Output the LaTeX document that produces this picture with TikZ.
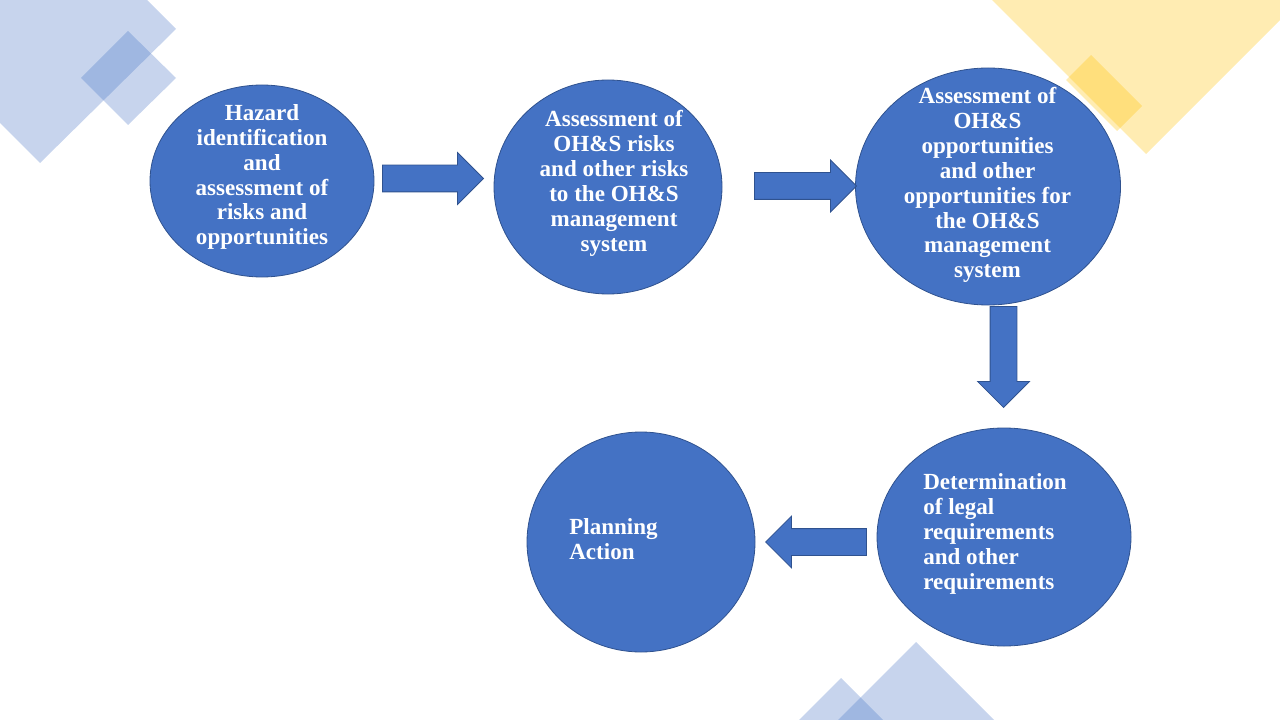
\documentclass[tikz,border=0pt]{standalone}
\usepackage{fontspec}
\setmainfont{Liberation Serif}
\usetikzlibrary{shapes.geometric,shapes.arrows}
\definecolor{nodeblue}{HTML}{4472C4}
\definecolor{edgeblue}{HTML}{2F528F}
\definecolor{gold}{HTML}{FFC000}
\newcommand\pxu{*0.75pt}
\begin{document}
\begin{tikzpicture}[x=0.75pt,y=-0.75pt,
  bubble/.style={ellipse, fill=nodeblue, draw=edgeblue, line width=0.6pt, inner sep=0pt},
  bubbletext/.style={text=white, font=\bfseries\fontsize{17.3}{18.7}\selectfont, inner sep=0pt},
  blockarrow/.style={single arrow, fill=nodeblue, draw=edgeblue, line width=0.6pt,
     inner xsep=0pt, inner ysep=9.75pt, single arrow head extend=9.375pt, minimum width=0pt, anchor=tip},
  bluedeco/.style={fill=nodeblue, fill opacity=0.3},
  golddeco/.style={fill=gold, fill opacity=0.3}]

\useasboundingbox (0,0) rectangle (1280,720);

% background decorations
\begin{scope}
\clip (0,0) rectangle (1280,720);
\fill[bluedeco] (40,163) -- (176,29) -- (41,-106) -- (-95,28) -- cycle;
\fill[bluedeco] (81,78) -- (128,31) -- (176,78) -- (128,125) -- cycle;
\fill[golddeco] (1146,154) -- (896,-96) -- (1396,-96) -- cycle;
\fill[golddeco] (1066,80) -- (1091,55) -- (1142,106) -- (1117,131) -- cycle;
\fill[bluedeco] (916,642) -- (816,742) -- (1016,742) -- cycle;
\fill[bluedeco] (841,678) -- (777,742) -- (905,742) -- cycle;
\end{scope}

% circles
\node[bubble, minimum width=224\pxu, minimum height=192\pxu] (c1) at (262,181) {};
\node[bubble, minimum width=228\pxu, minimum height=214\pxu] (c2) at (608,187) {};
\node[bubble, minimum width=265\pxu, minimum height=237\pxu] (c3) at (988,186.5) {};
\node[bubble, minimum width=254\pxu, minimum height=218\pxu] (c4) at (1004,537) {};
\node[bubble, minimum width=228\pxu, minimum height=220\pxu] (c5) at (641,542) {};

% texts
\node[bubbletext, align=center] (t1) at (262,177) {Hazard\\identification\\and\\assessment of\\risks and\\opportunities};
\node[bubbletext, align=center] (t2) at (614,183.5) {Assessment of\\OH\&S risks\\and other risks\\to the OH\&S\\management\\system};
\node[bubbletext, align=center] (t3) at (987.5,185) {Assessment of\\OH\&S\\opportunities\\and other\\opportunities for\\the OH\&S\\management\\system};
\node[bubbletext, align=left, anchor=west] (t4) at (923,534) {Determination\\of legal\\requirements\\and other\\requirements};
\node[bubbletext, align=left, anchor=west] (t5) at (569,539.5) {Planning\\Action};

% block arrows
\node[blockarrow, minimum height=101\pxu] (a1) at (484,178.5) {};
\node[blockarrow, minimum height=102\pxu] (a2) at (857,186) {};
\node[blockarrow, minimum height=101\pxu, rotate=-90] (a3) at (1003.5,408) {};
\node[blockarrow, minimum height=101\pxu, rotate=180] (a4) at (765,542) {};
\end{tikzpicture}
\end{document}
